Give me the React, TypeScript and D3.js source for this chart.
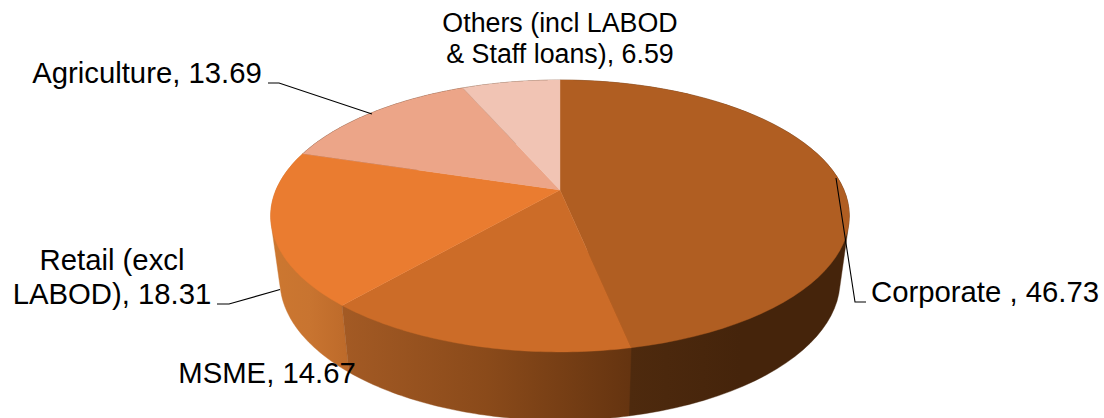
import React from "react";
import * as d3 from "d3";

const labels = ["Corporate ", "MSME", "Retail (excl LABOD)", "Agriculture", "Others (incl LABOD & Staff loans)"];
const values = [46.73, 14.67, 18.31, 13.69, 6.59];
const captionBreaks = [[], [], ["Retail (excl", "LABOD)"], [], ["Others (incl LABOD", "& Staff loans)"]];
const topColors = ["#b05e22", "#cc6c28", "#ea7c30", "#eca588", "#f1c4b4"];
const wallStops: string[][] = [
  ["#4e2a0e", "#45240b", "#45240b"],
  ["#a35a24", "#8a4a1a", "#653410"],
  ["#cc7730", "#c87430", "#bd6a2a"],
  ["#45240b", "#45240b", "#45240b"],
  ["#45240b", "#45240b", "#45240b"],
];
const wallRanges = [[630, 850], [345, 630], [272, 348], [272, 348], [272, 348]];
const leaders: [number, number][][] = [
  [[836, 178], [855, 302], [866, 302]],
  [[217, 304], [229, 304], [280, 289.5]],
  [[268, 83], [279, 83], [372, 114]],
];
const captionLayout = [
  { x: 985, y: 302, lh: 0, size: 29.3 },
  { x: 267, y: 383, lh: 0, size: 29.3 },
  { x: 112, y: 270, lh: 34, size: 29.3 },
  { x: 147, y: 83, lh: 0, size: 29.3 },
  { x: 560, y: 32, lh: 31, size: 26.8 },
];

const persp = 0.191;
const cx = 560;
const project = (a: number, R: number, S: number, cy: number): [number, number] => {
  const u = Math.sin(a);
  const v = -Math.cos(a);
  const d = 1 - persp * v;
  return [cx + (R * u) / d, cy + (S * v) / d];
};
const top = (a: number) => project(a, 284, 131, 190);
const bottom = (a: number) => project(a, 275, 135, 253.4);
const sweep = (a0: number, a1: number) => d3.range(0, 61).map((i) => a0 + ((a1 - a0) * i) / 60);
const line = d3.line();

const captionLines = (i: number): string[] => {
  const b = captionBreaks[i];
  if (!b.length) return [`${labels[i]}, ${values[i]}`];
  return [...b.slice(0, -1), `${b[b.length - 1]}, ${values[i]}`];
};

export default function App() {
  const arcs = d3.pie<number>().sort(null)(values);
  return (
    <svg width={1104} height={418} style={{ position: "fixed", left: 0, top: 0, background: "#fff" }}>
      <defs>
        {arcs.map((_, i) => (
          <linearGradient key={i} id={`wall${i}`} gradientUnits="userSpaceOnUse" x1={wallRanges[i][0]} x2={wallRanges[i][1]} y1={0} y2={0}>
            {wallStops[i].map((c, j) => (
              <stop key={j} offset={j / 2} stopColor={c} />
            ))}
          </linearGradient>
        ))}
      </defs>
      {[3, 4, 0, 2, 1].map((i) => {
        const s = sweep(arcs[i].startAngle, arcs[i].endAngle);
        const hull = d3.polygonHull([...s.map(top), ...s.map(bottom)]) ?? [];
        return <path key={i} d={line(hull) + "Z"} fill={`url(#wall${i})`} stroke={`url(#wall${i})`} strokeWidth={0.4} />;
      })}
      {arcs.map((d, i) => {
        const pts: [number, number][] = [[cx, 190], ...sweep(d.startAngle, d.endAngle).map(top)];
        return <path key={i} d={line(pts) + "Z"} fill={topColors[i]} stroke={topColors[i]} strokeWidth={0.4} />;
      })}
      {leaders.map((l, i) => (
        <path key={i} d={line(l) ?? ""} fill="none" stroke="#000" strokeWidth={1.1} />
      ))}
      {captionLayout.map((c, i) => (
        <text key={i} textAnchor="middle" fontFamily="'Liberation Sans', Arial, sans-serif" fontSize={c.size} fill="#000">
          {captionLines(i).map((t, j) => (
            <tspan key={j} x={c.x} y={c.y + j * c.lh} style={{ whiteSpace: "pre" }}>
              {t}
            </tspan>
          ))}
        </text>
      ))}
    </svg>
  );
}
